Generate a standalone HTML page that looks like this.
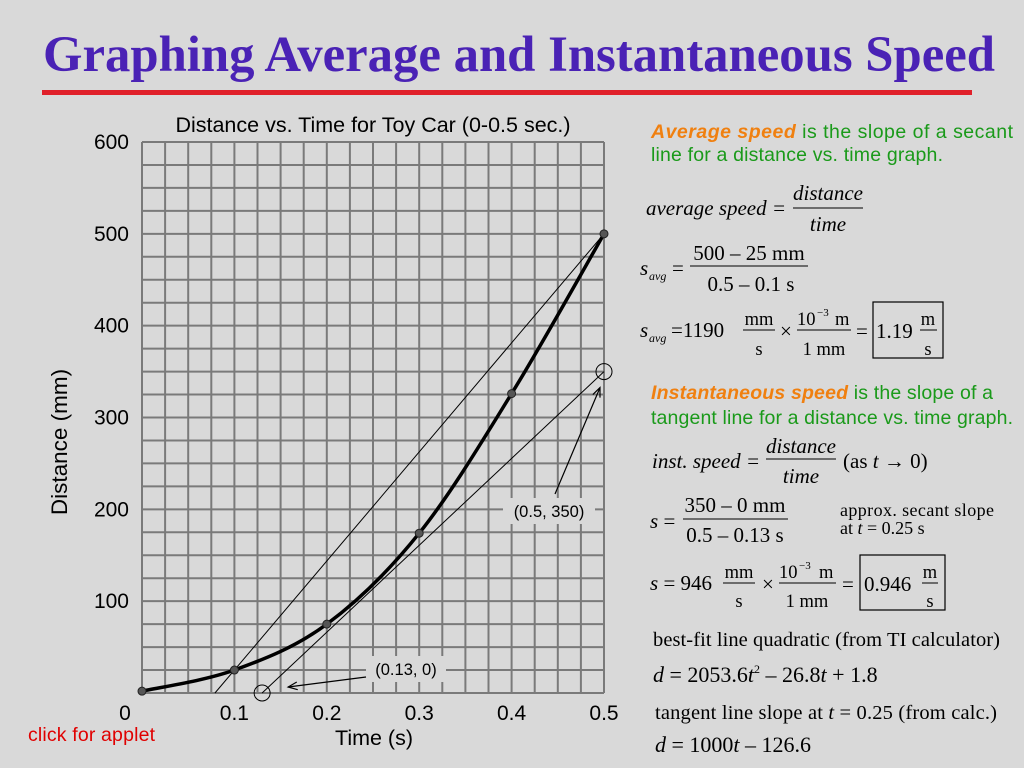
<!DOCTYPE html>
<html><head><meta charset="utf-8"><style>
html,body{margin:0;padding:0;background:#d9d9d9;}
svg{display:block;}
.ser{font-family:"Liberation Serif",serif;fill:#000;}
.san{font-family:"Liberation Sans",sans-serif;}
</style></head><body>
<svg id="s" width="1024" height="768" viewBox="0 0 1024 768" xmlns="http://www.w3.org/2000/svg">
<rect width="1024" height="768" fill="#d9d9d9"/>
<text x="519" y="71" text-anchor="middle" font-family="Liberation Serif,serif" font-weight="bold" font-size="50.5" fill="#4a22b5" textLength="952" lengthAdjust="spacingAndGlyphs">Graphing Average and Instantaneous Speed</text>
<rect x="42" y="90" width="930" height="5" fill="#e0202a"/>
<g id="chart"></g>
<text class="san" x="373" y="132" text-anchor="middle" font-size="21.5">Distance vs. Time for Toy Car (0-0.5 sec.)</text>
<text class="san" x="374" y="745" text-anchor="middle" font-size="21.5">Time (s)</text>
<text class="san" transform="translate(67,442) rotate(-90)" text-anchor="middle" font-size="22.5">Distance (mm)</text>
<text class="san" x="28" y="741" font-size="19.5" fill="#e00000" textLength="127">click for applet</text>

<g>
<text class="san" x="651" y="138" font-size="19.5" fill="#1a9a1a" textLength="362"><tspan font-weight="bold" font-style="italic" fill="#f08010">Average speed</tspan> is the slope of a secant</text>
<text class="san" x="651" y="161" font-size="19.5" fill="#1a9a1a" textLength="292">line for a distance vs. time graph.</text>
<g class="ser" font-size="21">
<text x="646" y="215" font-style="italic" textLength="140">average speed =</text>
<text x="828" y="200" text-anchor="middle" font-style="italic">distance</text>
<line x1="793" y1="208" x2="863" y2="208" stroke="#000" stroke-width="1"/>
<text x="828" y="231" text-anchor="middle" font-style="italic">time</text>
</g>
<g class="ser" font-size="21">
<text x="640" y="275" font-style="italic">s</text><text x="649" y="280" font-size="12" font-style="italic">avg</text>
<text x="672" y="275">=</text>
<text x="749" y="260" text-anchor="middle">500 – 25 mm</text>
<line x1="690" y1="266" x2="808" y2="266" stroke="#000"/>
<text x="751" y="291" text-anchor="middle">0.5 – 0.1 s</text>
<text x="640" y="337" font-style="italic">s</text><text x="649" y="342" font-size="12" font-style="italic">avg</text>
<text x="671" y="337">=1190</text>
<text x="759" y="325" text-anchor="middle" font-size="18.5">mm</text>
<line x1="743" y1="330" x2="775" y2="330" stroke="#000"/>
<text x="759" y="355" text-anchor="middle" font-size="18.5">s</text>
<text x="780" y="338">×</text>
<text x="797" y="325" font-size="18.5">10</text><text x="817" y="316" font-size="11">−3</text><text x="835" y="325" font-size="18.5">m</text>
<line x1="797" y1="330" x2="851" y2="330" stroke="#000"/>
<text x="824" y="355" text-anchor="middle" font-size="18.5">1 mm</text>
<text x="856" y="338">=</text>
<rect x="873" y="302" width="70" height="56" fill="none" stroke="#000" stroke-width="1.2"/>
<text x="876" y="338">1.19</text>
<text x="928" y="325" text-anchor="middle" font-size="18.5">m</text>
<line x1="920" y1="330" x2="937" y2="330" stroke="#000"/>
<text x="928" y="355" text-anchor="middle" font-size="18.5">s</text>
</g>
</g>

<g>
<text class="san" x="651" y="399" font-size="19.5" fill="#1a9a1a" textLength="342"><tspan font-weight="bold" font-style="italic" fill="#f08010">Instantaneous speed</tspan> is the slope of a</text>
<text class="san" x="651" y="424" font-size="19.5" fill="#1a9a1a" textLength="362">tangent line for a distance vs. time graph.</text>
<g class="ser" font-size="21">
<text x="652" y="468" font-style="italic">inst. speed =</text>
<text x="801" y="453" text-anchor="middle" font-style="italic">distance</text>
<line x1="766" y1="459" x2="836" y2="459" stroke="#000"/>
<text x="801" y="483" text-anchor="middle" font-style="italic">time</text>
<text x="843" y="468">(as <tspan font-style="italic">t</tspan> → 0)</text>
<text x="650" y="528"><tspan font-style="italic">s</tspan> =</text>
<text x="735" y="512" text-anchor="middle">350 – 0 mm</text>
<line x1="683" y1="519" x2="788" y2="519" stroke="#000"/>
<text x="735" y="542" text-anchor="middle">0.5 – 0.13 s</text>
<text x="840" y="516" font-size="18" textLength="154">approx. secant slope</text>
<text x="840" y="534" font-size="18">at <tspan font-style="italic">t</tspan> = 0.25 s</text>
<text x="650" y="590"><tspan font-style="italic">s</tspan> = 946</text>
<text x="739" y="578" text-anchor="middle" font-size="18.5">mm</text>
<line x1="723" y1="583" x2="755" y2="583" stroke="#000"/>
<text x="739" y="607" text-anchor="middle" font-size="18.5">s</text>
<text x="762" y="591">×</text>
<text x="779" y="578" font-size="18.5">10</text><text x="799" y="569" font-size="11">−3</text><text x="819" y="578" font-size="18.5">m</text>
<line x1="779" y1="583" x2="836" y2="583" stroke="#000"/>
<text x="807" y="607" text-anchor="middle" font-size="18.5">1 mm</text>
<text x="842" y="591">=</text>
<rect x="860" y="555" width="85" height="55" fill="none" stroke="#000" stroke-width="1.2"/>
<text x="864" y="591">0.946</text>
<text x="930" y="578" text-anchor="middle" font-size="18.5">m</text>
<line x1="922" y1="583" x2="938" y2="583" stroke="#000"/>
<text x="930" y="607" text-anchor="middle" font-size="18.5">s</text>
<text x="653" y="646" font-size="20.5" textLength="347">best-fit line quadratic (from TI calculator)</text>
<text x="653" y="682" font-size="22"><tspan font-style="italic">d</tspan> = 2053.6<tspan font-style="italic">t</tspan><tspan font-size="12" dy="-9">2</tspan><tspan dy="9"> – 26.8</tspan><tspan font-style="italic">t</tspan> + 1.8</text>
<text x="655" y="719" font-size="20.5" textLength="342">tangent line slope at <tspan font-style="italic">t</tspan> = 0.25 (from calc.)</text>
<text x="655" y="752" font-size="22"><tspan font-style="italic">d</tspan> = 1000<tspan font-style="italic">t</tspan> – 126.6</text>
</g>
</g>
</svg>
<script>
const times = [0, 0.1, 0.2, 0.3, 0.4, 0.5];
const distances = [2, 25, 75, 174, 326, 500];
const xTicks = [0, 0.1, 0.2, 0.3, 0.4, 0.5];
const xTickLabels = ["0", "0.1", "0.2", "0.3", "0.4", "0.5"];
const yTicks = [100, 200, 300, 400, 500, 600];
const secantPoint = [0.1, 25];
const secantEnd = [0.5, 500];
const tangentStart = [0.13, 0];
const tangentEnd = [0.5, 350];

const NS = "http://www.w3.org/2000/svg";
const X0 = 142, X1 = 604, Y0 = 693, Y1 = 142;
const xs = t => X0 + (t / 0.5) * (X1 - X0);
const ys = d => Y0 - (d / 600) * (Y0 - Y1);
const g = document.getElementById("chart");
function mk(tag, at, parent) {
  const e = document.createElementNS(NS, tag);
  for (const k in at) e.setAttribute(k, at[k]);
  (parent || g).appendChild(e);
  return e;
}
const bg = mk("rect", {x: X0, y: Y1, width: X1 - X0, height: Y0 - Y1, fill: "#d9d9d9"});


for (let i = 0; i <= 20; i++) {
  const x = X0 + i * (X1 - X0) / 20;
  const l = mk("line", {x1: x, y1: Y1, x2: x, y2: Y0, stroke: "#7a7a7a", "stroke-width": 2});
  
  
}
for (let i = 0; i <= 24; i++) {
  const y = Y1 + i * (Y0 - Y1) / 24;
  const l = mk("line", {x1: X0, y1: y, x2: X1, y2: y, stroke: "#7a7a7a", "stroke-width": 2});
  
  
}
xTicks.forEach((t, i) => {
  const e = mk("text", {x: i === 0 ? 125 : xs(t), y: 720, "text-anchor": "middle", "font-family": "Liberation Sans,sans-serif", "font-size": 21});
  e.textContent = xTickLabels[i];
  
  
});
yTicks.forEach(v => {
  const e = mk("text", {x: 129, y: ys(v) + 7, "text-anchor": "end", "font-family": "Liberation Sans,sans-serif", "font-size": 21});
  e.textContent = String(v);
  
  
});
const sl = (secantEnd[1] - secantPoint[1]) / (secantEnd[0] - secantPoint[0]);
const t0 = secantPoint[0] - secantPoint[1] / sl;
const sec = mk("line", {x1: xs(t0), y1: ys(0), x2: xs(secantEnd[0]), y2: ys(secantEnd[1]), stroke: "#000", "stroke-width": 1});


const tan = mk("line", {x1: xs(tangentStart[0]), y1: ys(tangentStart[1]), x2: xs(tangentEnd[0]), y2: ys(tangentEnd[1]), stroke: "#000", "stroke-width": 1});


const P = times.map((t, i) => [xs(t), ys(distances[i])]);
let d = "M" + P[0][0] + "," + P[0][1];
for (let i = 0; i < P.length - 1; i++) {
  const p0 = P[i - 1] || P[i], p1 = P[i], p2 = P[i + 1], p3 = P[i + 2] || P[i + 1];
  const c1 = [p1[0] + (p2[0] - p0[0]) / 6, p1[1] + (p2[1] - p0[1]) / 6];
  const c2 = [p2[0] - (p3[0] - p1[0]) / 6, p2[1] - (p3[1] - p1[1]) / 6];
  d += " C" + c1 + " " + c2 + " " + p2;
}
const curve = mk("path", {d: d, fill: "none", stroke: "#000", "stroke-width": 3.5});


P.forEach(p => {
  const c = mk("circle", {cx: p[0], cy: p[1], r: 4, fill: "#555", stroke: "#222"});
  
  
});
[tangentStart, tangentEnd].forEach(p => {
  const c = mk("circle", {cx: xs(p[0]), cy: ys(p[1]), r: 8, fill: "none", stroke: "#000", "stroke-width": 1});
  
  
});
function label(x, y, w, h, txt, name) {
  const r = mk("rect", {x: x, y: y, width: w, height: h, fill: "#d9d9d9"});
  
  
  const t = mk("text", {x: x + w / 2, y: y + h / 2 + 6, "text-anchor": "middle", "font-family": "Liberation Sans,sans-serif", "font-size": 16.5});
  t.textContent = txt;
  
  
}
label(503, 498, 92, 26, "(0.5, " + tangentEnd[1] + ")", "tangent-end-label");
label(366, 656, 80, 26, "(" + tangentStart[0] + ", " + tangentStart[1] + ")", "tangent-start-label");
function arrow(x1, y1, x2, y2, name) {
  const l = mk("line", {x1: x1, y1: y1, x2: x2, y2: y2, stroke: "#000", "stroke-width": 1.2});
  
  
  const a = Math.atan2(y2 - y1, x2 - x1), L = 10;
  const h = mk("polyline", {points: [x2 - L * Math.cos(a - 0.4), y2 - L * Math.sin(a - 0.4), x2, y2, x2 - L * Math.cos(a + 0.4), y2 - L * Math.sin(a + 0.4)].join(","), fill: "none", stroke: "#000", "stroke-width": 1.2});
  
  
}
arrow(555, 494, xs(tangentEnd[0]) - 4, ys(tangentEnd[1]) + 16, "arrow-to-tangent-end");
arrow(366, 677, xs(tangentStart[0]) + 26, ys(tangentStart[1]) - 6, "arrow-to-tangent-start");
</script>
</body></html>
